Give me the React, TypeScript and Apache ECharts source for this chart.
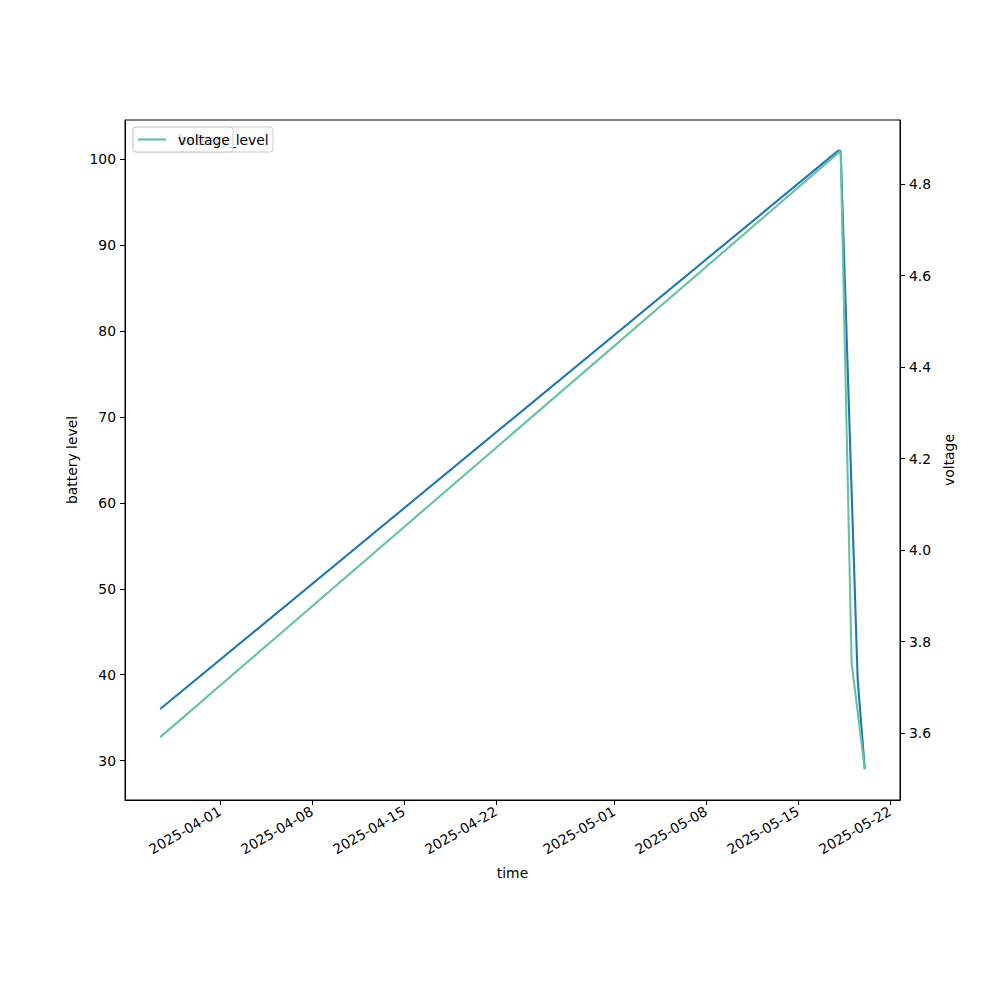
import React, { useEffect, useRef } from "react";
import * as echarts from "echarts";

const batteryTimes = [
  "2025-03-27T11:00:00Z",
  "2025-05-18T01:00:00Z",
  "2025-05-18T06:00:00Z",
  "2025-05-19T13:00:00Z",
  "2025-05-20T02:00:00Z",
];
const batteryLevel = [36, 101, 101, 39.5, 29];

const voltageTimes = [
  "2025-03-27T11:00:00Z",
  "2025-05-18T06:00:00Z",
  "2025-05-19T02:00:00Z",
  "2025-05-20T02:00:00Z",
];
const voltage = [3.591, 4.873, 3.752, 3.521];

const xTickLabels = [
  "2025-04-01",
  "2025-04-08",
  "2025-04-15",
  "2025-04-22",
  "2025-05-01",
  "2025-05-08",
  "2025-05-15",
  "2025-05-22",
];
const leftTicks = [30, 40, 50, 60, 70, 80, 90, 100];
const rightTicks = [3.6, 3.8, 4.0, 4.2, 4.4, 4.6, 4.8];

const FONT = "DejaVu Sans";
const ms = (s: string) => new Date(s).getTime();

function pad(min: number, max: number) {
  const p = (max - min) * 0.05;
  return [min - p, max + p];
}

export default function App() {
  const ref = useRef<HTMLDivElement>(null);
  useEffect(() => {
    if (!ref.current) return;
    const chart = echarts.init(ref.current, undefined, { renderer: "svg" });
    const allT = [...batteryTimes, ...voltageTimes].map(ms);
    const [xMin, xMax] = pad(Math.min(...allT), Math.max(...allT));
    const [lMin, lMax] = pad(Math.min(...batteryLevel), Math.max(...batteryLevel));
    const [rMin, rMax] = pad(Math.min(...voltage), Math.max(...voltage));
    const xTicks = xTickLabels.map((d) => ms(d + "T00:00:00Z"));
    const axisCommon = {
      axisLine: { show: true, lineStyle: { color: "#000", width: 1 } },
      axisTick: { show: true, inside: false, length: 5, lineStyle: { color: "#000", width: 1 } },
      splitLine: { show: false },
      nameTextStyle: { fontFamily: FONT, fontSize: 13.9, color: "#000" },
    };
    chart.setOption({
      animation: false,
      backgroundColor: "#fff",
      grid: {
        left: 125,
        right: 100,
        top: 120,
        bottom: 200,
        show: true,
        borderColor: "#000",
        borderWidth: 1,
        backgroundColor: "transparent",
      },
      xAxis: {
        type: "value",
        min: xMin,
        max: xMax,
        name: "time",
        nameLocation: "middle",
        nameGap: 66,
        ...axisCommon,
        axisTick: { ...axisCommon.axisTick, customValues: xTicks },
        axisLabel: {
          customValues: xTicks,
          rotate: 30,
          margin: 10,
          fontFamily: FONT,
          fontSize: 13.9,
          color: "#000",
          formatter: (v: number) => new Date(v).toISOString().slice(0, 10),
        },
      },
      yAxis: [
        {
          type: "value",
          position: "left",
          min: lMin,
          max: lMax,
          name: "battery level",
          nameLocation: "middle",
          nameGap: 46,
          ...axisCommon,
          axisTick: { ...axisCommon.axisTick, customValues: leftTicks },
          axisLabel: {
            customValues: leftTicks,
            margin: 9,
            fontFamily: FONT,
            fontSize: 13.9,
            color: "#000",
          },
        },
        {
          type: "value",
          position: "right",
          min: rMin,
          max: rMax,
          name: "voltage",
          nameLocation: "middle",
          nameGap: 33,
          ...axisCommon,
          axisTick: { ...axisCommon.axisTick, customValues: rightTicks },
          axisLabel: {
            customValues: rightTicks,
            margin: 9,
            fontFamily: FONT,
            fontSize: 13.9,
            color: "#000",
            formatter: (v: number) => v.toFixed(1),
          },
        },
      ],
      series: [
        {
          name: "battery_level",
          type: "line",
          yAxisIndex: 0,
          showSymbol: false,
          symbol: "none",
          lineStyle: { color: "#1f77b4", width: 2.1 },
          data: batteryTimes.map((t, i) => [ms(t), batteryLevel[i]]),
        },
        {
          name: "voltage",
          type: "line",
          yAxisIndex: 1,
          showSymbol: false,
          symbol: "none",
          lineStyle: { color: "#66c2a5", width: 2.1 },
          data: voltageTimes.map((t, i) => [ms(t), voltage[i]]),
        },
      ],
      graphic: [
        {
          type: "rect",
          shape: { x: 133, y: 127, width: 140, height: 25, r: 3 },
          style: { fill: "rgba(255,255,255,0.8)", stroke: "#cccccc", lineWidth: 1 },
          z: 100,
        },
        {
          type: "line",
          shape: { x1: 138, y1: 139.5, x2: 166, y2: 139.5 },
          style: { stroke: "#1f77b4", lineWidth: 2.1 },
          z: 101,
        },
        {
          type: "text",
          x: 178,
          y: 139.5,
          style: {
            text: "battery_level",
            fontFamily: FONT,
            fontSize: 13.9,
            fill: "#000",
            verticalAlign: "middle",
          },
          z: 101,
        },
        {
          type: "rect",
          shape: { x: 133, y: 127, width: 100, height: 25, r: 3 },
          style: { fill: "rgba(255,255,255,0.8)", stroke: "#cccccc", lineWidth: 1 },
          z: 102,
        },
        {
          type: "line",
          shape: { x1: 138, y1: 139.5, x2: 166, y2: 139.5 },
          style: { stroke: "#66c2a5", lineWidth: 2.1 },
          z: 103,
        },
        {
          type: "text",
          x: 178,
          y: 139.5,
          style: {
            text: "voltage",
            fontFamily: FONT,
            fontSize: 13.9,
            fill: "#000",
            verticalAlign: "middle",
          },
          z: 103,
        },
      ],
    });
    return () => chart.dispose();
  }, []);
  return (
    <div
      ref={ref}
      style={{ position: "absolute", left: 0, top: 0, width: 1000, height: 1000 }}
    />
  );
}
